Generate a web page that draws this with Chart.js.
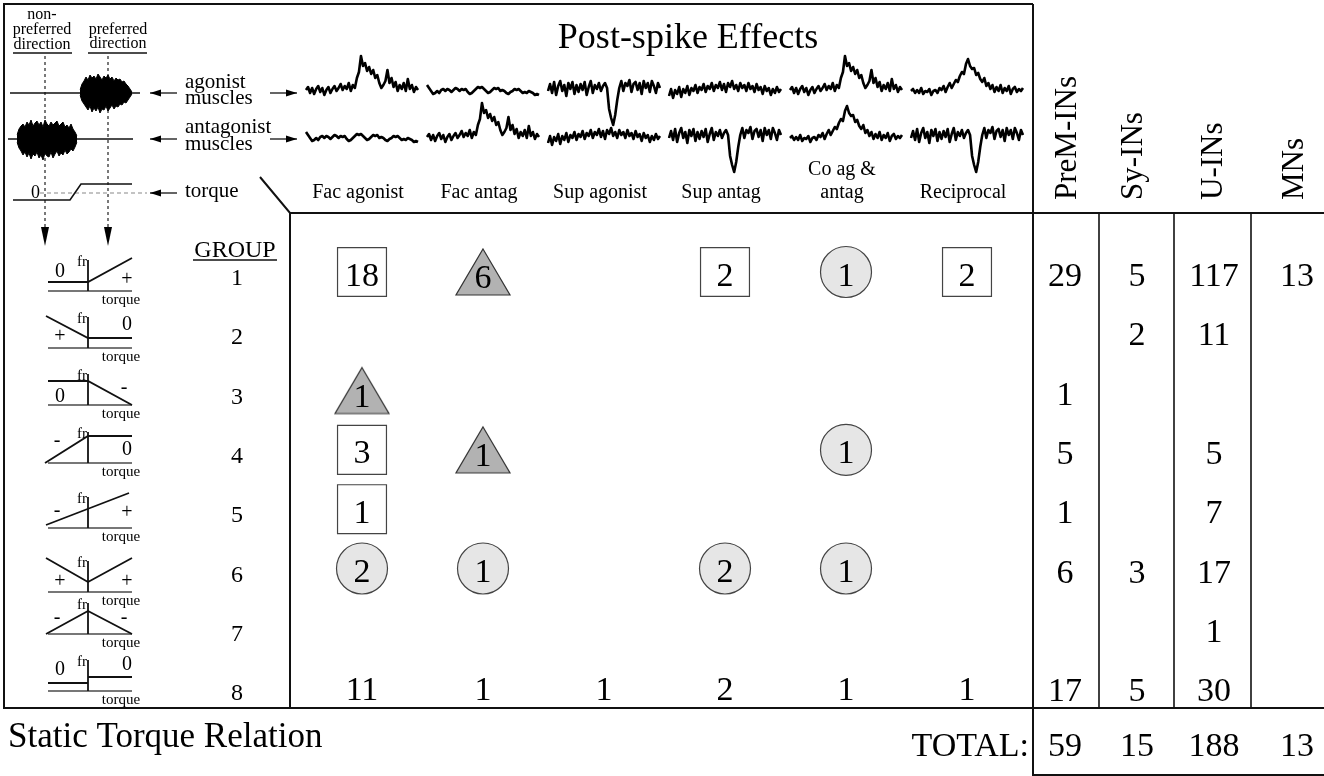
<!DOCTYPE html>
<html>
<head>
<meta charset="utf-8">
<script src="https://cdn.jsdelivr.net/npm/chart.js"></script>
<style>
  body { margin: 0; background: #fff; }
  #wrap { position: relative; width: 1324px; height: 776px; }
  #wrap canvas { position: absolute; }
</style>
</head>
<body>
<div id="wrap"><canvas id="main" width="1324" height="776" style="left:0;top:0"></canvas></div>
<script>
// ---- data ----
const effects = ['Fac agonist', 'Fac antag', 'Sup agonist', 'Sup antag', 'Co ag & antag', 'Reciprocal'];
const groups = [1, 2, 3, 4, 5, 6, 7, 8];
const cellTypes = ['PreM-INs', 'Sy-INs', 'U-INs', 'MNs'];

// [effect index, group, count]
const squareCells = [[0, 1, 18], [3, 1, 2], [5, 1, 2], [0, 4, 3], [0, 5, 1]];
const triangleCells = [[1, 1, 6], [0, 3, 1], [1, 4, 1]];
const circleCells = [[4, 1, 1], [4, 4, 1], [0, 6, 2], [1, 6, 1], [3, 6, 2], [4, 6, 1]];
const group8Counts = [11, 1, 1, 2, 1, 1];

// counts per group (1..8) for each cell type
const premINs = [29, null, 1, 5, 1, 6, null, 17];
const syINs = [5, 2, null, null, null, 3, null, 5];
const uINs = [117, 11, null, 5, 7, 17, 1, 30];
const mNs = [13, null, null, null, null, null, null, null];
const totals = [59, 15, 188, 13];

// spike-triggered averages, samples ~2 px apart, positive = up
const facTrace = [1, 4, -2, 3, -3, 2, 5, -1, 3, -4, 1, 4, -2, 2, 5, 0, 3, 7, 1, 5,
  2, 8, 0, 6, 3, 13, 19, 35, 25, 28, 20, 24, 17, 21, 13, 16, 8, 3, 6, 10,
  21, 8, 13, 4, 9, 0, 6, 2, 8, 0, 12, 2, 6, -1, 4, 1];
const flatTrace = [6, 3, 0, -3, -2, 0, -2, 1, 2, 0, 2, 1, -1, 1, 3, 2, 0, 2, 1, 2,
  -1, -3, -2, 0, 2, 4, 3, 4, 2, 0, -2, -1, 1, 3, 2, 3, 0, 1, 0, -2,
  -3, -1, 0, 2, 1, 2, 0, -2, -1, -2, 0, -1, -2, -4, -3, -4];
const supTrace = [0, 7, -2, 9, -4, 5, 10, 0, 6, -5, 8, 2, 9, -3, 6, -1, 7, 1, 9, -4,
  4, 10, -2, 6, 2, 8, 0, 5, 8, 3, -18, -27, -34, -24, -9, 3, 10, 0, 8, 5,
  11, -1, 7, 9, 1, 8, -3, 10, 3, 8, -1, 10, 5, -2, 8, 3];
const noisyTrace = [-5, 2, -7, 1, -3, 4, -6, 2, -2, 5, -4, 3, 0, 6, -2, 4, 1, 7, -1, 5,
  2, 8, 0, 6, 3, 9, 1, 7, -1, 8, 4, 10, 2, 6, 0, 8, 3, 6, 0, 8,
  2, 5, -1, 7, 1, 4, -3, 5, 0, 3, -4, 2, -2, 4, -1, 2];
const humpTrace = [0, 2, -2, 1, -2, 3, -3, 0, -1, 2, -4, 0, 1, -2, 3, 1, 5, -1, 4, 8,
  3, 7, 11, 9, 15, 19, 17, 27, 32, 25, 22, 23, 16, 18, 12, 9, 13, 5, 8, 2,
  6, -1, 4, 0, 6, -2, 3, 0, 5, -3, 2, 4, -1, 2, 0, 3];
const agonistTraces = [facTrace, flatTrace, supTrace, noisyTrace, facTrace, humpTrace];
const antagonistTraces = [flatTrace, facTrace, noisyTrace, supTrace, humpTrace, supTrace];

// EMG burst envelopes in the schematic
const agBurstUp = [3, 9, 12, 16, 13, 18, 15, 17, 14, 19, 16, 13, 17, 15, 18, 14, 16, 12, 15, 13, 14, 11, 12, 9, 7, 4, 1];
const agBurstDown = [-2, -8, -11, -14, -17, -13, -19, -15, -18, -14, -20, -16, -17, -13, -18, -15, -12, -16, -13, -14, -11, -12, -9, -10, -7, -4, -1];
const anBurstUp = [4, 10, 13, 15, 12, 17, 14, 19, 13, 16, 18, 14, 17, 12, 19, 15, 13, 17, 14, 16, 18, 13, 15, 17, 12, 14, 11, 15, 10, 7, 3];
const anBurstDown = [-3, -9, -12, -16, -13, -18, -14, -20, -15, -17, -13, -19, -16, -21, -14, -17, -18, -13, -19, -15, -12, -17, -14, -16, -11, -15, -13, -10, -12, -8, -3];

// ---- drawing helpers ----
const SERIF = '"Liberation Serif", "Times New Roman", serif';
const INK = '#111';

function text(ctx, s, x, y, size, align, base) {
  ctx.font = size + 'px ' + SERIF;
  ctx.textAlign = align || 'center';
  ctx.textBaseline = base || 'alphabetic';
  ctx.fillText(s, x, y);
}

function line(ctx, pts, w, color, dash) {
  ctx.save();
  ctx.lineWidth = w;
  ctx.strokeStyle = color || INK;
  ctx.setLineDash(dash || []);
  ctx.beginPath();
  pts.forEach((p, i) => i ? ctx.lineTo(p[0], p[1]) : ctx.moveTo(p[0], p[1]));
  ctx.stroke();
  ctx.restore();
}

function hArrow(ctx, x1, x2, y) {
  line(ctx, [[x1, y], [x2, y]], 1.3);
  const d = x2 > x1 ? 1 : -1;
  ctx.beginPath();
  ctx.moveTo(x2, y);
  ctx.lineTo(x2 - d * 11, y - 3.5);
  ctx.lineTo(x2 - d * 11, y + 3.5);
  ctx.closePath();
  ctx.fill();
}

// torque-relation pictograms, relative to the fr axis and baseline
const ICON_X = 88;
const iconBase = [291, 348, 405, 463, 528, 592, 634, 691];
const iconShapes = [
  { lines: [[[-40, -9], [0, -9], [44, -33]]], marks: [['0', -28, -19], ['+', 39, -11]] },
  { lines: [[[-42, -32], [0, -10], [44, -10]]], marks: [['+', -28, -11], ['0', 39, -23]] },
  { lines: [[[-40, -24], [0, -24], [44, 0]]], marks: [['0', -28, -8], ['-', 36, -17]] },
  { lines: [[[-43, 0], [0, -27], [44, -27]]], marks: [['-', -31, -22], ['0', 39, -13]] },
  { lines: [[[-42, -3], [41, -35]]], marks: [['-', -31, -17], ['+', 39, -15]] },
  { lines: [[[-42, -34], [0, -10], [44, -34]]], marks: [['+', -28, -10], ['+', 39, -10]] },
  { lines: [[[-42, 0], [0, -23], [44, 0]]], marks: [['-', -31, -16], ['-', 36, -16]] },
  { lines: [[[-40, -8], [0, -8]], [[0, -14], [44, -14]]], marks: [['0', -28, -21], ['0', 39, -26]] }
];

function drawIcon(ctx, shape, B) {
  line(ctx, [[ICON_X - 40, B], [ICON_X + 44, B]], 2, '#777');
  line(ctx, [[ICON_X, B - 31], [ICON_X, B]], 1.8);
  shape.lines.forEach(l => line(ctx, l.map(p => [ICON_X + p[0], B + p[1]]), 1.8));
  shape.marks.forEach(m => text(ctx, m[0], ICON_X + m[1], B + m[2], 20, 'center', 'middle'));
  text(ctx, 'fr', ICON_X - 6, B - 29, 15, 'center', 'middle');
  text(ctx, 'torque', ICON_X + 33, B + 9, 15, 'center', 'middle');
}

function drawFrame(chart) {
  const ctx = chart.ctx;
  const xs = chart.scales.x, ys = chart.scales.y;
  ctx.save();
  ctx.fillStyle = '#000';

  // table lines
  line(ctx, [[1033, 4], [4, 4], [4, 708], [1324, 708]], 2);
  line(ctx, [[1033, 4], [1033, 775], [1324, 775]], 2);
  line(ctx, [[1033, 213], [1324, 213]], 2);
  [1099, 1174, 1251].forEach(x => line(ctx, [[x, 213], [x, 708]], 1.6));
  line(ctx, [[260, 177], [290, 213], [1033, 213]], 2);
  line(ctx, [[290, 213], [290, 708]], 2);

  // schematic: preferred / non-preferred direction
  text(ctx, 'non-', 42, 19, 16);
  text(ctx, 'preferred', 42, 34, 16);
  text(ctx, 'direction', 42, 49, 16);
  text(ctx, 'preferred', 118, 34, 16);
  text(ctx, 'direction', 118, 48, 16);
  line(ctx, [[13, 53], [72, 53]], 1.5);
  line(ctx, [[88, 53], [147, 53]], 1.5);
  [45, 108].forEach(x => {
    line(ctx, [[x, 56], [x, 228]], 1.2, '#222', [3, 3]);
    ctx.beginPath();
    ctx.moveTo(x - 4, 227);
    ctx.lineTo(x + 4, 227);
    ctx.lineTo(x, 246);
    ctx.closePath();
    ctx.fill();
  });
  line(ctx, [[10, 93], [140, 93]], 1.6);
  line(ctx, [[8, 139], [133, 139]], 1.6);
  line(ctx, [[40, 193], [147, 193]], 1.2, '#888', [4, 3]);
  line(ctx, [[13, 200], [70, 200], [81, 184], [132, 184]], 1.6);
  text(ctx, '0', 35.5, 193, 18, 'center', 'middle');
  hArrow(ctx, 177, 150, 93);
  hArrow(ctx, 177, 150, 139);
  hArrow(ctx, 177, 150, 193);
  hArrow(ctx, 270, 297, 93);
  hArrow(ctx, 270, 297, 139);
  text(ctx, 'agonist', 185, 88, 21, 'left');
  text(ctx, 'muscles', 185, 104, 21, 'left');
  text(ctx, 'antagonist', 185, 133, 21, 'left');
  text(ctx, 'muscles', 185, 150, 21, 'left');
  text(ctx, 'torque', 185, 197, 21, 'left');

  // headers
  text(ctx, 'Post-spike Effects', 688, 48, 36);
  effects.forEach((name, i) => {
    const x = xs.getPixelForValue(i) - 4;
    if (name === 'Co ag & antag') {
      text(ctx, 'Co ag &', x, 175, 20);
      text(ctx, 'antag', x, 198, 20);
    } else {
      text(ctx, name, x, 198, 20);
    }
  });
  const headX = [1076, 1142, 1222, 1303];
  cellTypes.forEach((name, i) => {
    ctx.save();
    ctx.translate(headX[i], 200);
    ctx.rotate(-Math.PI / 2);
    text(ctx, name, 0, 0, 31, 'left');
    ctx.restore();
  });

  // groups and pictograms
  text(ctx, 'GROUP', 235, 257, 24);
  line(ctx, [[193, 260], [277, 260]], 1.5);
  groups.forEach((g, i) => {
    text(ctx, String(g), 237, ys.getPixelForValue(g) + 13, 24);
    drawIcon(ctx, iconShapes[i], iconBase[i]);
  });

  // cell-type counts
  const colX = [1065, 1137, 1214, 1297];
  [premINs, syINs, uINs, mNs].forEach((col, c) => {
    col.forEach((v, i) => {
      if (v !== null) text(ctx, String(v), colX[c], ys.getPixelForValue(groups[i]) + 14, 34);
    });
    text(ctx, String(totals[c]), colX[c], 756, 34);
  });
  text(ctx, 'TOTAL:', 1029, 756, 34, 'right');
  text(ctx, 'Static Torque Relation', 8, 747, 35, 'left');
  ctx.restore();
}

const framePlugin = {
  id: 'frame',
  beforeDatasetsDraw(chart) { drawFrame(chart); },
  afterDatasetsDraw(chart) {
    const ctx = chart.ctx;
    ctx.save();
    ctx.fillStyle = '#000';
    chart.data.datasets.forEach((ds, d) => {
      chart.getDatasetMeta(d).data.forEach((el, j) => {
        text(ctx, String(ds.data[j].n), el.x, el.y + (ds.textDy || 13.5), 34);
      });
    });
    ctx.restore();
  }
};

function triangleStyle() {
  const c = document.createElement('canvas');
  c.width = 60;
  c.height = 52;
  const g = c.getContext('2d');
  g.beginPath();
  g.moveTo(30, 3);
  g.lineTo(57, 49);
  g.lineTo(3, 49);
  g.closePath();
  g.fillStyle = '#b2b2b2';
  g.fill();
  g.strokeStyle = '#333';
  g.lineWidth = 1.2;
  g.stroke();
  return c;
}

const toPoints = cells => cells.map(([e, g, n]) => ({ x: e, y: g, n }));

const mainChart = new Chart(document.getElementById('main'), {
  type: 'scatter',
  data: {
    datasets: [
      { data: toPoints(squareCells), pointStyle: 'rect', pointRadius: 34.6,
        backgroundColor: '#fff', borderColor: '#444', borderWidth: 1.2 },
      { data: toPoints(triangleCells), pointStyle: triangleStyle(), pointRadius: 27, textDy: 16 },
      { data: toPoints(circleCells), pointStyle: 'circle', pointRadius: 25.5,
        backgroundColor: '#e6e6e6', borderColor: '#444', borderWidth: 1.2 },
      { data: group8Counts.map((n, e) => ({ x: e, y: 8, n })), pointRadius: 0, textDy: 13 }
    ]
  },
  options: {
    responsive: false,
    animation: false,
    events: [],
    layout: { padding: { left: 301.5, right: 296.5, top: 242.35, bottom: 59.25 } },
    plugins: { legend: { display: false }, tooltip: { enabled: false } },
    scales: {
      x: { type: 'linear', min: -0.5, max: 5.5, display: false },
      y: { type: 'linear', min: 0.5, max: 8.5, reverse: true, display: false }
    }
  },
  plugins: [framePlugin]
});

// ---- small line charts for the traces and EMG bursts ----
const wrap = document.getElementById('wrap');

function smallChart(left, top, w, h, datasets, yMin, yMax, n) {
  const c = document.createElement('canvas');
  c.width = w;
  c.height = h;
  c.style.left = left + 'px';
  c.style.top = top + 'px';
  wrap.appendChild(c);
  return new Chart(c, {
    type: 'line',
    data: { labels: Array.from({ length: n }, (_, i) => i), datasets },
    options: {
      responsive: false,
      animation: false,
      events: [],
      layout: { padding: 2 },
      plugins: { legend: { display: false }, tooltip: { enabled: false } },
      scales: {
        x: { display: false },
        y: { display: false, min: yMin, max: yMax }
      }
    }
  });
}

const traceStyle = { borderColor: '#000', borderWidth: 2.6, borderJoinStyle: 'round',
  pointRadius: 0, tension: 0, fill: false };
const rowBase = [91, 138];
effects.forEach((_, i) => {
  const cx = mainChart.scales.x.getPixelForValue(i);
  [agonistTraces[i], antagonistTraces[i]].forEach((tr, r) => {
    smallChart(cx - 58, rowBase[r] - 46, 116, 88,
      [Object.assign({ data: tr }, traceStyle)], -40, 44, tr.length);
  });
});

const burstStyle = { borderColor: '#000', borderWidth: 1, pointRadius: 0, tension: 0, backgroundColor: '#000' };
smallChart(78, 93 - 24, 56, 48,
  [Object.assign({ data: agBurstUp, fill: false }, burstStyle),
   Object.assign({ data: agBurstDown, fill: '-1' }, burstStyle)], -22, 22, agBurstUp.length);
smallChart(15, 139 - 25, 64, 50,
  [Object.assign({ data: anBurstUp, fill: false }, burstStyle),
   Object.assign({ data: anBurstDown, fill: '-1' }, burstStyle)], -23, 23, anBurstUp.length);
</script>
</body>
</html>
